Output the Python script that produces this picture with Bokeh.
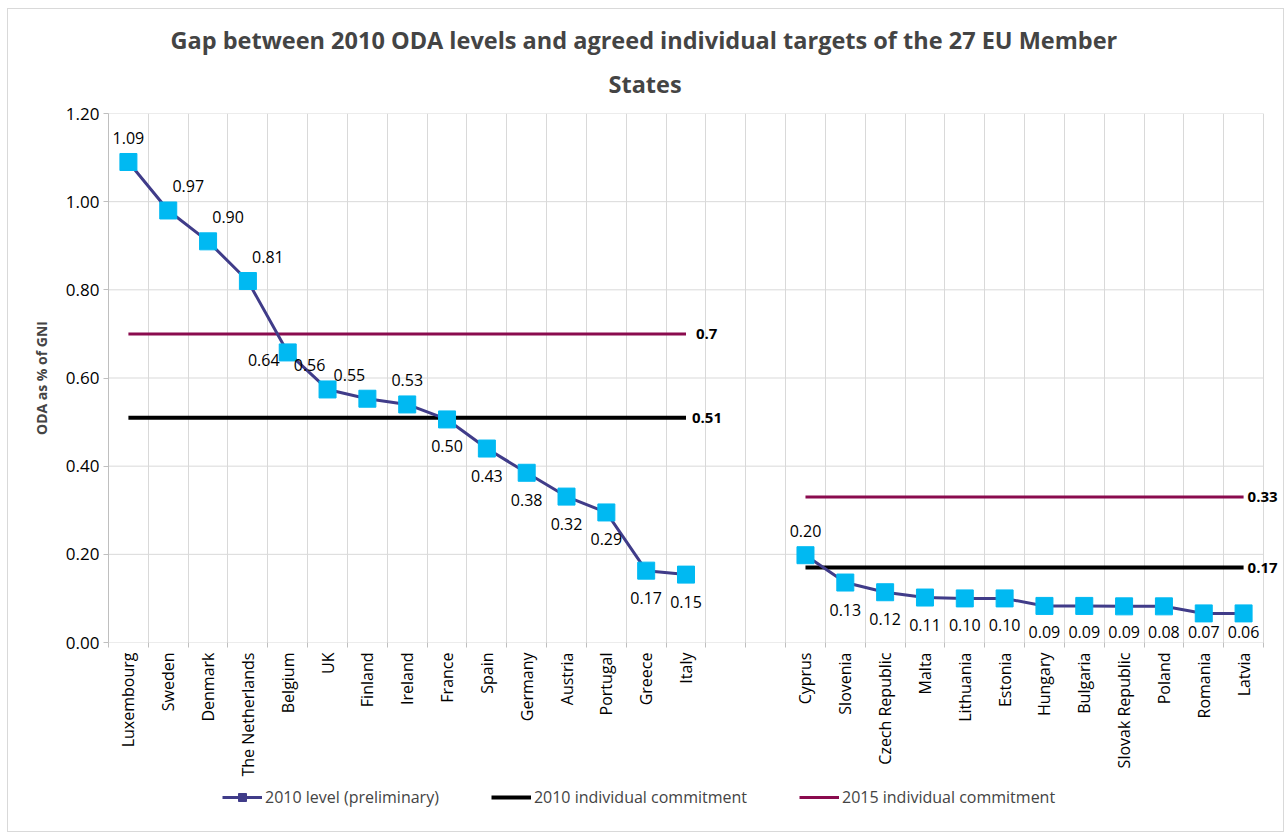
from bokeh.plotting import figure
from bokeh.layouts import column
from bokeh.models import ColumnDataSource, FixedTicker, Legend, LegendItem, Title, Range1d
from bokeh.embed import file_html
from bokeh.resources import INLINE
from bokeh.core.properties import value

# ---------------- data ----------------
old_members = ["Luxembourg", "Sweden", "Denmark", "The Netherlands", "Belgium", "UK",
               "Finland", "Ireland", "France", "Spain", "Germany", "Austria",
               "Portugal", "Greece", "Italy"]
new_members = ["Cyprus", "Slovenia", "Czech Republic", "Malta", "Lithuania", "Estonia",
               "Hungary", "Bulgaria", "Slovak Republic", "Poland", "Romania", "Latvia"]
gap_slots = 2  # empty categories between the two groups

old_level = [1.09, 0.98, 0.91, 0.82, 0.658, 0.574, 0.553, 0.54, 0.506, 0.44,
             0.385, 0.331, 0.295, 0.163, 0.154]
old_labels = ["1.09", "0.97", "0.90", "0.81", "0.64", "0.56", "0.55", "0.53",
              "0.50", "0.43", "0.38", "0.32", "0.29", "0.17", "0.15"]
old_label_pos = ["above", "above-right", "above-right", "above-right", "left",
                 "above-left", "above-left", "above", "below", "below", "below",
                 "below", "below", "below", "below"]

new_level = [0.198, 0.136, 0.114, 0.102, 0.10, 0.10, 0.083, 0.083, 0.082, 0.082,
             0.066, 0.066]
new_labels = ["0.20", "0.13", "0.12", "0.11", "0.10", "0.10", "0.09", "0.09",
              "0.09", "0.08", "0.07", "0.06"]
new_label_pos = ["above"] + ["below"] * 11

commit_2010_old = 0.51
commit_2015_old = 0.70
commit_2010_new = 0.17
commit_2015_new = 0.33
commit_labels = {"2010_old": "0.51", "2015_old": "0.7", "2010_new": "0.17", "2015_new": "0.33"}

y_ticks = [0.0, 0.2, 0.4, 0.6, 0.8, 1.0, 1.2]

title_line1 = "Gap between 2010 ODA levels and agreed individual targets of the 27 EU Member"
title_line2 = "States"
y_title = "ODA as % of GNI"
legend_names = ["2010 level (preliminary)", "2010 individual commitment", "2015 individual commitment"]

# ---------------- styles ----------------
FONT = "Open Sans"
NAVY = "#403C89"
CYAN = "#00B9F2"
MAROON = "#8A0B4E"
GRID = "#D9D9D9"
AXIS = "#BFBFBF"
offsets = {"above": (0, -24), "above-right": (20, -24), "above-left": (-18, -24),
           "left": (-24, 8), "below": (0, 27)}

categories = old_members + [""] * gap_slots + new_members
n_cat = len(categories)
old_x = [i + 0.5 for i in range(len(old_members))]
new_start = len(old_members) + gap_slots
new_x = [new_start + j + 0.5 for j in range(len(new_members))]

CAT_W = 1155 / n_cat          # pixels per category
EXTRA_RIGHT = 20              # room right of last category for the value labels
FRAME_W = 1155 + EXTRA_RIGHT
FRAME_H = 529
Y_MAX = 1.2
px_per_y = FRAME_H / Y_MAX
TOTAL_W = 100 + FRAME_W

p = figure(frame_width=FRAME_W, frame_height=FRAME_H, output_backend="svg", toolbar_location=None,
           x_range=Range1d(0, n_cat + EXTRA_RIGHT / CAT_W), y_range=Range1d(0, Y_MAX),
           min_border_left=100, min_border_right=0, min_border_top=104,
           min_border_bottom=134)
p.background_fill_color = "white"
p.border_fill_color = "white"
p.outline_line_color = None

# axes
centers = [i + 0.5 for i in range(n_cat)]
p.xaxis.ticker = FixedTicker(ticks=centers, minor_ticks=list(range(n_cat + 1)))
p.xaxis.major_label_overrides = {c: lab for c, lab in zip(centers, categories)}
p.xaxis.major_label_orientation = 3.14159265 / 2
p.xaxis.major_tick_line_color = None
p.xaxis.minor_tick_out = 5
p.xaxis.minor_tick_in = 0
p.xaxis.minor_tick_line_color = AXIS
p.xaxis.axis_line_color = None
p.xaxis.major_label_text_font = FONT
p.xaxis.major_label_text_font_size = "16px"
p.xaxis.major_label_text_color = "black"
p.xaxis.major_label_standoff = 4

p.yaxis.ticker = FixedTicker(ticks=y_ticks)
p.yaxis.major_label_overrides = {t: f"{t:.2f}" for t in y_ticks}
p.yaxis.major_tick_out = 5
p.yaxis.major_tick_in = 0
p.yaxis.minor_tick_line_color = None
p.yaxis.major_tick_line_color = AXIS
p.yaxis.axis_line_color = AXIS
p.yaxis.major_label_standoff = 4
p.yaxis.major_label_text_font = FONT
p.yaxis.major_label_text_font_size = "17px"
p.yaxis.major_label_text_color = "black"
p.yaxis.axis_label = y_title
p.yaxis.axis_label_text_font = FONT
p.yaxis.axis_label_text_font_size = "14px"
p.yaxis.axis_label_text_font_style = "bold"
p.yaxis.axis_label_standoff = 12

p.xgrid.ticker = FixedTicker(ticks=list(range(n_cat + 1)))
p.xgrid.grid_line_color = GRID
p.ygrid.grid_line_color = None
# horizontal gridlines stop at the last category boundary
p.segment(x0=[0] * len(y_ticks), x1=[n_cat] * len(y_ticks), y0=y_ticks, y1=y_ticks,
          line_color=GRID, line_width=1)

# commitment lines
c2015_old = p.line([old_x[0], old_x[-1]], [commit_2015_old] * 2, line_color=MAROON, line_width=3)
c2010_old = p.line([old_x[0], old_x[-1]], [commit_2010_old] * 2, line_color="black", line_width=4)
c2015_new = p.line([new_x[0], new_x[-1]], [commit_2015_new] * 2, line_color=MAROON, line_width=3)
c2010_new = p.line([new_x[0], new_x[-1]], [commit_2010_new] * 2, line_color="black", line_width=4)

for xv, yv, key, dx in [(old_x[-1], commit_2015_old, "2015_old", 10),
                        (old_x[-1], commit_2010_old, "2010_old", 6),
                        (new_x[-1], commit_2015_new, "2015_new", 4),
                        (new_x[-1], commit_2010_new, "2010_new", 4)]:
    p.text(x=[xv], y=[yv], text=[commit_labels[key]], x_offset=dx,
           text_font=value(FONT), text_font_size="15px", text_font_style="bold",
           text_align="left", text_baseline="middle", text_color="black")

# 2010 level series
lvl_old = p.line(old_x, old_level, line_color=NAVY, line_width=3)
lvl_new = p.line(new_x, new_level, line_color=NAVY, line_width=3)
p.scatter(old_x, old_level, marker="square", size=17, fill_color=CYAN, line_color=CYAN)
p.scatter(new_x, new_level, marker="square", size=17, fill_color=CYAN, line_color=CYAN)

all_levels = old_level + new_level
all_pos = old_label_pos + new_label_pos
# labels below a point are kept inside the plot area (as the spreadsheet does)
dys = []
for lv, pos in zip(all_levels, all_pos):
    dy = offsets[pos][1]
    if pos == "below":
        dy = min(dy, lv * px_per_y - 11)
    dys.append(dy)
lab_src = ColumnDataSource(dict(
    x=old_x + new_x,
    y=all_levels,
    text=old_labels + new_labels,
    dx=[offsets[k][0] for k in all_pos],
    dy=dys,
))
p.text(x="x", y="y", text="text", x_offset="dx", y_offset="dy", source=lab_src,
       text_font=value(FONT), text_font_size="16px", text_align="center",
       text_baseline="middle", text_color="black")

# title (two lines): the figure's own title is outermost
p.title.text = title_line1
p.title.align = "left"
p.title.offset = 62
p.title.text_font = FONT
p.title.text_font_size = "23.5px"
p.title.text_font_style = "bold"
p.title.standoff = 0
p.title.vertical_align = "bottom"
p.add_layout(Title(text=title_line2, align="left", offset=500, text_font=FONT,
                   text_font_size="23.5px", text_font_style="bold", standoff=24,
                   vertical_align="top"), "above")

# ---------------- legend strip under the chart ----------------
lf = figure(width=TOTAL_W, height=52, output_backend="svg", toolbar_location=None,
            x_range=Range1d(0, 1), y_range=Range1d(0, 1), min_border=0)
lf.axis.visible = False
lf.grid.visible = False
lf.outline_line_color = None
lf.background_fill_color = "white"
lf.border_fill_color = "white"
# legend keys only (their points lie outside the visible range)
g1 = lf.line([-2, -1], [-2, -2], line_color=NAVY, line_width=3)
g1m = lf.scatter([-2], [-2], marker="square", size=4, fill_color=NAVY, line_color=NAVY)
g2 = lf.line([-2, -1], [-2, -2], line_color="black", line_width=4)
g3 = lf.line([-2, -1], [-2, -2], line_color=MAROON, line_width=3)

legend = Legend(items=[
    LegendItem(label=legend_names[0], renderers=[g1, g1m]),
    LegendItem(label=legend_names[1], renderers=[g2]),
    LegendItem(label=legend_names[2], renderers=[g3]),
], orientation="horizontal", location=(114, 23))
legend.label_text_font = FONT
legend.label_text_font_size = "16px"
legend.glyph_width = 40
legend.glyph_height = 20
legend.label_standoff = 3
legend.spacing = 52
legend.padding = 5
legend.margin = 0
legend.border_line_color = None
legend.background_fill_alpha = 0
lf.add_layout(legend)

layout = column(p, lf, spacing=0,
                styles={"border": "1px solid #D9D9D9", "margin": "8px 0 0 7px"})

open("out.html", "w").write(file_html(layout, INLINE))
